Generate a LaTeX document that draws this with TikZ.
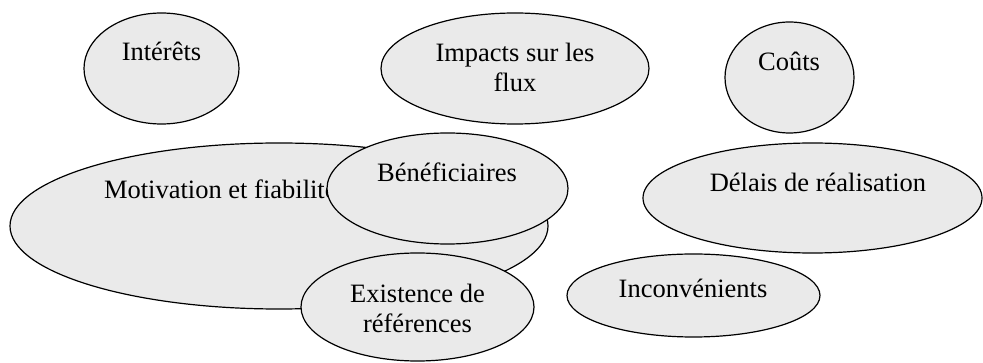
\documentclass[tikz,border=0pt]{standalone}
\usepackage{fontspec}
\setmainfont{Liberation Serif}
\usetikzlibrary{shapes.geometric}
\definecolor{bubblefill}{HTML}{EAEAEA}
\tikzset{
  bubble/.style={ellipse, draw=black, line width=1.2pt, fill=bubblefill, inner sep=0pt, outer sep=0pt},
  lab/.style={inner sep=0pt, outer sep=0pt, font=\fontsize{26.5}{30}\selectfont, anchor=base},
  lab2/.style={inner sep=0pt, outer sep=0pt, font=\fontsize{26.5}{30}\selectfont, align=center, anchor=north}
}
\begin{document}
\begin{tikzpicture}[x=1pt,y=-1pt]
\useasboundingbox (0,0) rectangle (983,363);
% top row
\node[bubble, minimum width=155pt, minimum height=111pt] (int) at (161.5,68.5) {};
\node[lab] (intT) at (161.5,61) {Intérêts};
\node[bubble, minimum width=268pt, minimum height=111pt] (imp) at (515,68.5) {};
\node[lab2] (impT) at (515,43) {Impacts sur les\\flux};
\node[bubble, minimum width=129pt, minimum height=111pt] (cou) at (789.5,77.5) {};
\node[lab] (couT) at (789,71) {Coûts};
% middle
\node[bubble, minimum width=538pt, minimum height=166pt] (mot) at (279,226) {};
\node[lab, anchor=base west] (motT) at (104,199) {Motivation et fiabilité};
\node[bubble, minimum width=241pt, minimum height=111pt] (ben) at (447.5,188.5) {};
\node[lab] (benT) at (447,182) {Bénéficiaires};
\node[bubble, minimum width=339pt, minimum height=110pt] (del) at (812.5,198) {};
\node[lab] (delT) at (818,192) {Délais de réalisation};
% bottom
\node[bubble, minimum width=253pt, minimum height=83pt] (inc) at (693.5,295.5) {};
\node[lab] (incT) at (693,298) {Inconvénients};
\node[bubble, minimum width=233pt, minimum height=108pt] (exi) at (417.5,307) {};
\node[lab2] (exiT) at (417.5,284) {Existence de\\références};
\end{tikzpicture}
\end{document}
